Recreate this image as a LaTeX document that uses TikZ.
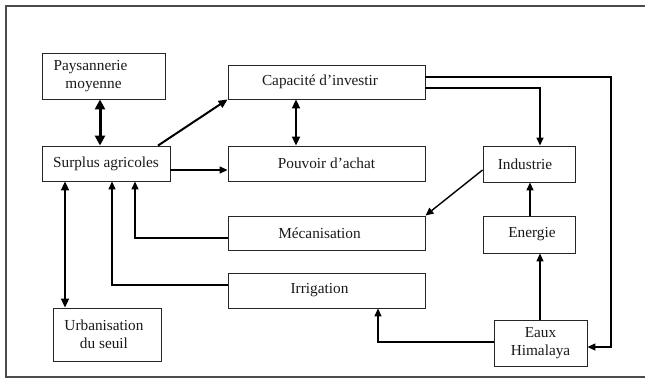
\documentclass[tikz,border=0pt]{standalone}
\usepackage{fontspec}
\setmainfont{Liberation Serif}
\usetikzlibrary{arrows.meta}
\begin{document}
\begin{tikzpicture}[x=1pt,y=-1pt,
  box/.style={draw=black!85, line width=0.9pt, inner sep=0pt, align=center,
    font=\fontsize{15.3}{18}\selectfont, text=black!90},
  arr/.style={line width=1.4pt, -{Triangle[length=8pt,width=7pt]}},
  tharr/.style={line width=2pt, -{Triangle[length=9pt,width=8pt]}},
  dbl/.style={line width=2pt, {Triangle[length=9pt,width=8pt]}-{Triangle[length=9pt,width=8pt]}},
  dblthick/.style={line width=3pt, {Triangle[length=10pt,width=10pt]}-{Triangle[length=10pt,width=10pt]}},
  frame/.style={draw=black!70, line width=1.5pt}]
\useasboundingbox (0,0) rectangle (645,378);
\draw[frame] (645,6) -- (6,6) -- (6,377) -- (645,377);

\node[box, minimum width=123pt, minimum height=46pt] (pay) at (103.5,76) {\hspace*{-26pt}Paysannerie\\\hspace*{-20pt}moyenne};
\node[box, minimum width=197pt, minimum height=34pt] (cap) at (326.5,82) {\hspace*{-13pt}Capacité d’investir};
\node[box, minimum width=128pt, minimum height=35pt] (sur) at (106,163.5) {Surplus agricoles};
\node[box, minimum width=197pt, minimum height=35pt] (pou) at (326.5,163.5) {Pouvoir d’achat};
\node[box, minimum width=92pt, minimum height=36pt] (ind) at (529,164) {\hspace*{-8pt}Industrie};
\node[box, minimum width=197pt, minimum height=34pt] (mec) at (326.5,233) {\hspace*{-14pt}Mécanisation};
\node[box, minimum width=92pt, minimum height=37pt] (ene) at (529,234.5) {\hspace*{6pt}Energie};
\node[box, minimum width=197pt, minimum height=35pt] (irr) at (326.5,290.5) {\hspace*{-14pt}Irrigation};
\node[box, minimum width=108pt, minimum height=53pt] (urb) at (107,334.5) {\hspace*{-6pt}Urbanisation\\\hspace*{-6pt}du seuil};
\node[box, minimum width=93pt, minimum height=46pt] (eau) at (540.5,343) {Eaux\\Himalaya};

\draw[dblthick] (pay.south -| 100,0) -- (sur.north -| 100,0);
\draw[tharr] (sur.north -| 158,0) -- (cap.south west);
\draw[arr] (sur.east |- 0,170) -- (pou.west |- 0,170);
\draw[dbl] (cap.south -| 296,0) -- (pou.north -| 296,0);
\draw[arr] (cap.east |- 0,77) -| (611,347) -- (eau.east |- 0,347);
\draw[arr] (cap.east |- 0,88) -| (ind.north -| 540,0);
\draw[arr] (ind.west |- 0,170) -- (mec.north east);
\draw[arr] (ene.north -| 530,0) -- (ind.south -| 530,0);
\draw[arr] (eau.north -| 540,0) -- (ene.south -| 540,0);
\draw[arr] (eau.west |- 0,342) -| (irr.south -| 378,0);
\draw[arr] (mec.west |- 0,238) -| (sur.south -| 135,0);
\draw[arr] (irr.west |- 0,285) -| (sur.south -| 112,0);
\draw[dbl] (sur.south -| 65,0) -- (urb.north -| 65,0);
\end{tikzpicture}
\end{document}
